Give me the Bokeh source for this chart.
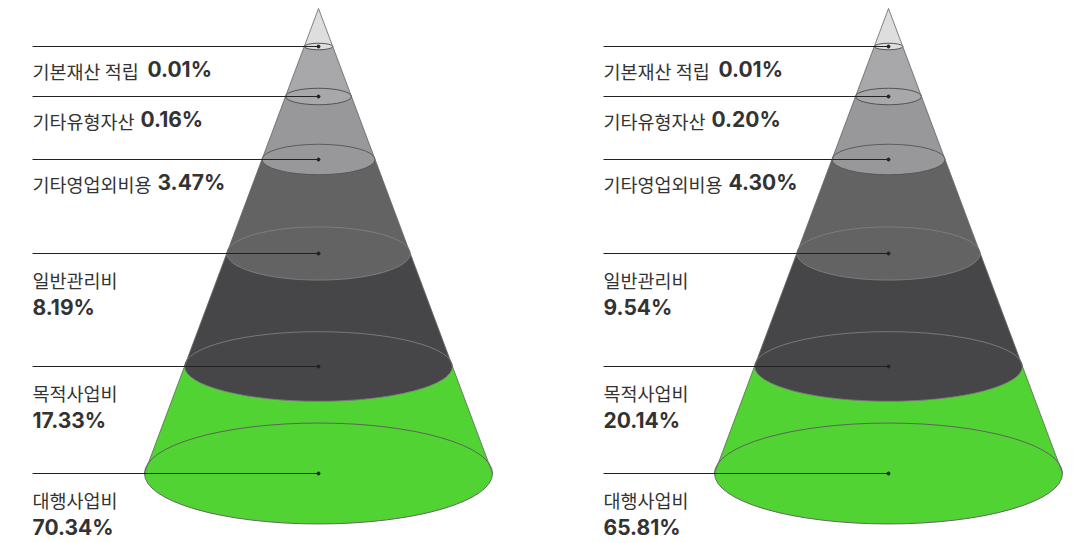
from bokeh.plotting import figure
from bokeh.models import Range1d
from bokeh.core.properties import value
from bokeh.embed import file_html
from bokeh.resources import INLINE

# ---------------- data ----------------
categories = ["기본재산 적립", "기타유형자산", "기타영업외비용", "일반관리비", "목적사업비", "대행사업비"]
values_left = [0.01, 0.16, 3.47, 8.19, 17.33, 70.34]
values_right = [0.01, 0.20, 4.30, 9.54, 20.14, 65.81]

# ---------------- layout / style ----------------
W, H = 1080, 543
def Y(py):                    # page-pixel y -> data y
    return H - py

apex_py = 8
level_py = [46, 96, 159, 253, 366, 473]   # rim positions (page px)
base_hw = 174
tilt = [0.23, 0.25, 0.27, 0.29, 0.26, 0.29]  # rim perspective (height / width)
cones = [(318, 32, values_left), (888, 603, values_right)]
num_offset = [115, 108, 125]               # x offset of bold number for inline labels

band_colors = ["#dedede", "#a8a8aa", "#98989b", "#636363", "#464648", "#52d334"]
rim_line = ["#4a4a4a", "#4a4a4a", "#555555", "#808080", "#7e7e7e", "#5a5a5a"]

KFONT = value("Noto Sans CJK KR")
NFONT = value("Inter")
TXT = "#333333"

p = figure(width=W, height=H, output_backend="svg", toolbar_location=None,
           x_range=Range1d(0, W), y_range=Range1d(0, H),
           x_axis_location=None, y_axis_location=None, min_border=0)
p.grid.visible = False
p.outline_line_color = None
p.background_fill_color = "white"
p.border_fill_color = "white"

def hw_at(py):
    return base_hw * (py - apex_py) / (level_py[-1] - apex_py)

for cx, lx, vals in cones:
    # bands (trapezoids / apex triangle)
    xs, ys = [], []
    prev = apex_py
    for py in level_py:
        h0, h1 = hw_at(prev), hw_at(py)
        xs.append([cx - h0, cx + h0, cx + h1, cx - h1])
        ys.append([Y(prev), Y(prev), Y(py), Y(py)])
        prev = py
    p.patches(xs, ys, fill_color=band_colors, line_color=band_colors, line_width=0.5)

    # rims (ellipses)
    widths = [2 * hw_at(py) for py in level_py]
    heights = [2 * t * hw_at(py) for t, py in zip(tilt, level_py)]
    p.ellipse(x=[cx] * len(level_py), y=[Y(py) for py in level_py],
              width=widths, height=heights, fill_color=band_colors,
              line_color=rim_line, line_width=0.9)

    # cone sides
    p.segment(x0=[cx, cx], y0=[Y(apex_py)] * 2,
              x1=[cx - base_hw, cx + base_hw], y1=[Y(level_py[-1])] * 2,
              line_color="#6a6a6a", line_width=0.8)

    # leader lines
    p.segment(x0=[lx] * len(level_py), y0=[Y(py) for py in level_py],
              x1=[cx] * len(level_py), y1=[Y(py) for py in level_py],
              line_color="#222222", line_width=1)
    p.scatter(x=[cx] * len(level_py), y=[Y(py) for py in level_py],
              size=3, color="#222222")

    # labels
    for i, (cat, v) in enumerate(zip(categories, vals)):
        num = f"{v:.2f}%"
        if i < 3:
            yy = Y(level_py[i] + 24)
            p.text(x=[lx], y=[yy], text=[cat], text_font=KFONT, text_font_size="18.5px",
                   text_baseline="middle", text_color=TXT)
            p.text(x=[lx + num_offset[i]], y=[yy + 1], text=[num], text_font=NFONT,
                   text_font_size="21px", text_font_style="bold",
                   text_baseline="middle", text_color=TXT)
        else:
            p.text(x=[lx], y=[Y(level_py[i] + 26)], text=[cat], text_font=KFONT,
                   text_font_size="18.5px", text_baseline="middle", text_color=TXT)
            p.text(x=[lx], y=[Y(level_py[i] + 54)], text=[num], text_font=NFONT,
                   text_font_size="21px", text_font_style="bold",
                   text_baseline="middle", text_color=TXT)

open("out.html", "w").write(file_html(p, INLINE))
